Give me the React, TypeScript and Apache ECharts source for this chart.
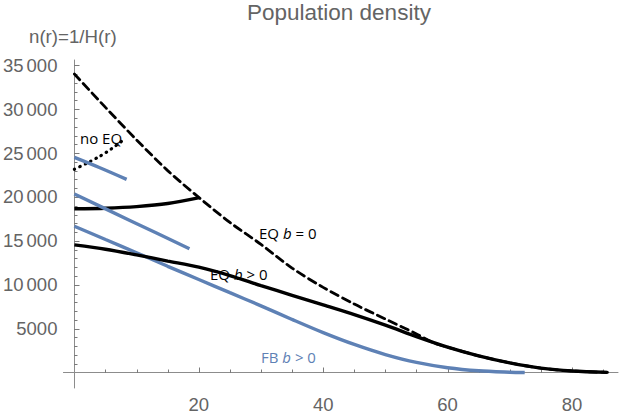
import React, { useEffect, useRef } from "react";
import * as echarts from "echarts";

// ---- data ----
const eqB0X = [0, 5, 10, 15, 20, 25, 30, 35, 40, 45, 50, 55, 57.7, 60, 65, 70, 75, 80, 85.7];
const eqB0Y = [34000, 30200, 26500, 23000, 19950, 17100, 14600, 11900, 9700, 7800, 6100, 4400, 3400, 2900, 1900, 1100, 500, 180, 20];

const eqPosX = [0, 5, 10, 15, 20, 25, 30, 35, 40, 45, 50, 55, 60, 65, 70, 75, 80, 85.7];
const eqPosY = [14540, 14050, 13400, 12700, 12000, 11050, 9900, 8800, 7700, 6600, 5400, 4100, 2900, 1900, 1100, 500, 180, 20];

const eqUpperX = [0, 5, 10, 15, 20.1];
const eqUpperY = [18650, 18720, 18900, 19250, 19930];

const noEqX = [0, 2, 4, 6, 8.1];
const noEqY = [23150, 23850, 24600, 25500, 26600];

const fbX = [0, 5, 10, 15, 20, 25, 30, 35, 40, 45, 50, 55, 60, 65, 70, 72.4];
const fbY = [16670, 15150, 13650, 12100, 10600, 9100, 7600, 6050, 4550, 3200, 2050, 1150, 550, 200, 40, 0];

const fbShortAX = [0, 4, 8.4];
const fbShortAY = [24500, 23350, 22000];

const fbShortBX = [0, 9, 18.5];
const fbShortBY = [20330, 17300, 14100];

const xMajorTicks = [20, 40, 60, 80];
const xMinorTicks = [5, 10, 15, 25, 30, 35, 45, 50, 55, 65, 70, 75, 85];
const yMajorTicks = [5000, 10000, 15000, 20000, 25000, 30000, 35000];
const yMinorTicks = [
  1000, 2000, 3000, 4000, 6000, 7000, 8000, 9000, 11000, 12000, 13000, 14000,
  16000, 17000, 18000, 19000, 21000, 22000, 23000, 24000, 26000, 27000, 28000,
  29000, 31000, 32000, 33000, 34000,
];

const X_MIN = -1.76;
const X_MAX = 87.4;
const Y_MIN = -1760;
const Y_MAX = 35600;

const pairs = (xs: number[], ys: number[]) => xs.map((x, i) => [x, ys[i]]);

export default function App() {
  const ref = useRef<HTMLDivElement>(null);
  useEffect(() => {
    document.body.style.margin = "0";
    const chart = echarts.init(ref.current!, null, { renderer: "svg" });
    const axisColor = "#8c8c8c";
    const tickColor = "#7a7a7a";
    const labelColor = "#646464";
    const sans = "'Liberation Sans', Arial, sans-serif";
    const note = "'Open Sans', sans-serif";
    const blue = "#5e81b5";
    const MAJOR = 5.5;
    const MINOR = 3.5;

    const line = (data: number[][], color: string, width: number, type: any, z = 2) => ({
      type: "line",
      data,
      xAxisIndex: 0,
      yAxisIndex: 0,
      showSymbol: false,
      symbol: "none",
      smooth: 0.3,
      z,
      silent: true,
      lineStyle: { color, width, type, cap: type === "solid" ? "butt" : "round" },
    });

    const richLabel = (pre: string, post: string, fill: string) => ({
      text: `${pre}{i|b}${post}`,
      fontFamily: note,
      fontSize: 15,
      fill,
      verticalAlign: "middle",
      rich: {
        i: { fontStyle: "italic", fontFamily: note, fontSize: 15, fill },
      },
    });

    const xTickData = [
      ...xMajorTicks.map((v) => [v, MAJOR]),
      ...xMinorTicks.map((v) => [v, MINOR]),
    ];
    const yTickData = [
      ...yMajorTicks.map((v) => [v, MAJOR]),
      ...yMinorTicks.map((v) => [v, MINOR]),
    ];

    chart.setOption({
      animation: false,
      title: {
        text: "Population density",
        left: 242,
        top: -4,
        textStyle: { fontSize: 22.5, fontWeight: "normal", color: labelColor, fontFamily: sans },
      },
      grid: { left: 62, right: 16, top: 60, bottom: 14 },
      xAxis: {
        type: "value",
        min: X_MIN,
        max: X_MAX,
        position: "bottom",
        splitLine: { show: false },
        axisLine: { show: true, onZero: true, lineStyle: { color: axisColor, width: 1 } },
        axisTick: { show: false },
        axisLabel: { show: true, customValues: xMajorTicks, margin: 7, color: labelColor, fontSize: 18.5, fontFamily: sans },
      },
      yAxis: {
        type: "value",
        min: Y_MIN,
        max: Y_MAX,
        position: "left",
        splitLine: { show: false },
        axisLine: { show: true, onZero: true, lineStyle: { color: axisColor, width: 1 } },
        axisTick: { show: false },
        axisLabel: {
          show: true,
          customValues: yMajorTicks,
          margin: 6,
          color: labelColor,
          fontSize: 18.5,
          fontFamily: sans,
          formatter: (v: number) =>
            v >= 10000 ? `{a|${Math.floor(v / 1000)}}{b|000}` : `{a|${v}}`,
          rich: {
            a: { fontSize: 18.5, fontFamily: sans, color: labelColor },
            b: { fontSize: 18.5, fontFamily: sans, color: labelColor, padding: [0, 0, 0, 3] },
          },
        },
      },
      graphic: [
        {
          type: "text",
          x: 29,
          y: 36,
          style: { text: "n(r)=1/H(r)", fontFamily: sans, fontSize: 18.7, fill: labelColor, verticalAlign: "middle" },
        },
        { type: "text", x: 80, y: 138, style: { text: "no EQ", fontFamily: note, fontSize: 15, fill: "#000", verticalAlign: "middle" } },
        { type: "text", x: 259, y: 233, style: richLabel("EQ ", " = 0", "#000") },
        { type: "text", x: 210, y: 274, style: richLabel("EQ ", " > 0", "#000") },
        { type: "text", x: 261, y: 357, style: richLabel("FB ", " > 0", blue) },
      ],
      series: [
        {
          type: "custom",
          xAxisIndex: 0,
          yAxisIndex: 0,
          silent: true,
          clip: false,
          z: 1,
          data: xTickData,
          renderItem: (_p: any, api: any) => {
            const pt = api.coord([api.value(0), 0]);
            const x = Math.round(pt[0]) + 0.5;
            const y = Math.round(pt[1]);
            return {
              type: "line",
              shape: { x1: x, y1: y, x2: x, y2: y - api.value(1) },
              style: { stroke: tickColor, lineWidth: 1 },
            };
          },
        },
        {
          type: "custom",
          xAxisIndex: 0,
          yAxisIndex: 0,
          silent: true,
          clip: false,
          z: 1,
          data: yTickData,
          renderItem: (_p: any, api: any) => {
            const pt = api.coord([0, api.value(0)]);
            const x = Math.round(pt[0]);
            const y = Math.round(pt[1]) + 0.5;
            return {
              type: "line",
              shape: { x1: x, y1: y, x2: x + api.value(1), y2: y },
              style: { stroke: tickColor, lineWidth: 1 },
            };
          },
        },
        line(pairs(eqB0X, eqB0Y), "#000", 2.8, [8, 5], 3),
        line(pairs(noEqX, noEqY), "#000", 3.2, [0.5, 5.5], 3),
        line(pairs(eqUpperX, eqUpperY), "#000", 3.4, "solid", 3),
        line(pairs(eqPosX, eqPosY), "#000", 3.4, "solid", 3),
        line(pairs(fbShortAX, fbShortAY), blue, 3.4, "solid", 4),
        line(pairs(fbShortBX, fbShortBY), blue, 3.4, "solid", 4),
        line(pairs(fbX, fbY), blue, 3.4, "solid", 2),
      ],
    });
    return () => chart.dispose();
  }, []);
  return (
    <div
      ref={ref}
      style={{ position: "fixed", left: 0, top: 0, width: 634, height: 414, background: "#fff" }}
    />
  );
}
